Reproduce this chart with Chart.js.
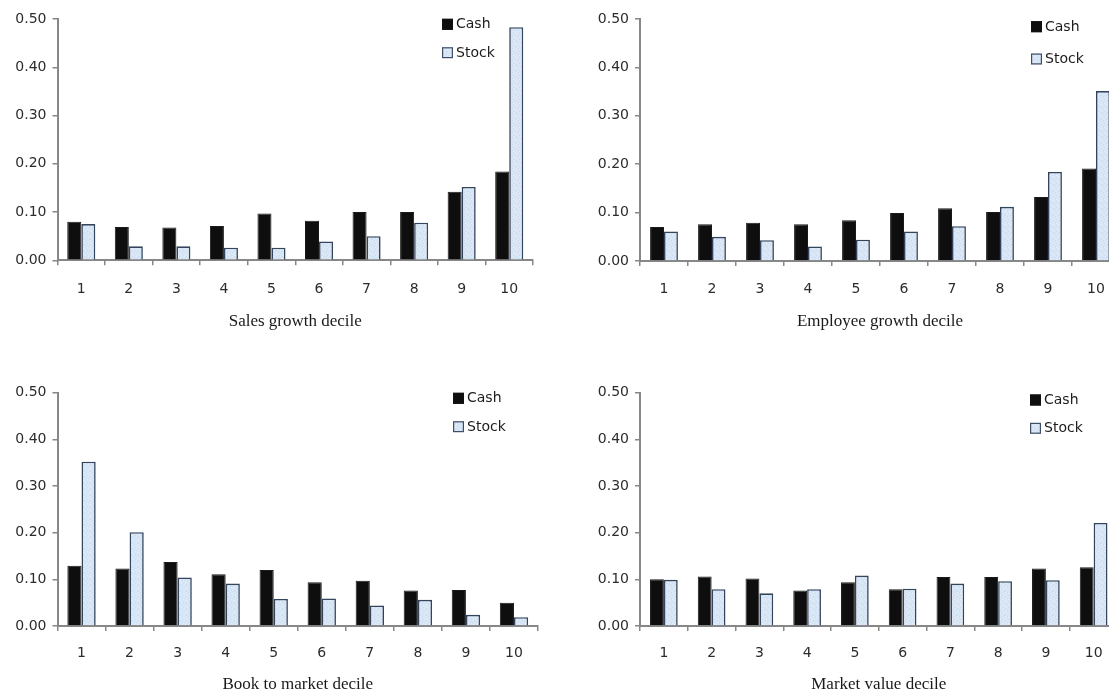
<!DOCTYPE html>
<html>
<head>
<meta charset="utf-8">
<script src="https://cdn.jsdelivr.net/npm/chart.js@4.4.1/dist/chart.umd.min.js"></script>
<style>
  html, body { margin: 0; padding: 0; background: #ffffff; }
  body { position: relative; width: 1109px; height: 696px; overflow: hidden; }
  canvas { position: absolute; display: block; }
</style>
</head>
<body>
<canvas id="sales"></canvas>
<canvas id="employee"></canvas>
<canvas id="btm"></canvas>
<canvas id="mktval"></canvas>
<script>
// Decile categories shared by every panel
const deciles = ['1', '2', '3', '4', '5', '6', '7', '8', '9', '10'];
const seriesNames = ['Cash', 'Stock'];
const yTickValues = [0, 0.1, 0.2, 0.3, 0.4, 0.5];

// Sales growth decile
const salesCash  = [0.080, 0.069, 0.068, 0.071, 0.097, 0.082, 0.100, 0.100, 0.142, 0.184];
const salesStock = [0.075, 0.029, 0.029, 0.026, 0.026, 0.039, 0.050, 0.078, 0.152, 0.483];

// Employee growth decile
const empCash  = [0.070, 0.076, 0.079, 0.076, 0.084, 0.099, 0.109, 0.101, 0.132, 0.191];
const empStock = [0.061, 0.050, 0.043, 0.030, 0.044, 0.061, 0.072, 0.112, 0.184, 0.351];

// Book to market decile
const btmCash  = [0.129, 0.123, 0.137, 0.111, 0.120, 0.094, 0.097, 0.076, 0.077, 0.050];
const btmStock = [0.352, 0.201, 0.104, 0.091, 0.058, 0.059, 0.044, 0.056, 0.024, 0.019];

// Market value decile
const mvCash  = [0.100, 0.106, 0.102, 0.076, 0.094, 0.079, 0.105, 0.105, 0.123, 0.126];
const mvStock = [0.099, 0.079, 0.070, 0.079, 0.108, 0.080, 0.091, 0.096, 0.098, 0.221];

// ---- styling ----
const SANS = 'DejaVu Sans';
const SERIF = 'Liberation Serif';
const AXIS_GRAY = '#878787';
const TEXT_DARK = '#2c2c2c';
const TICK_FONT = { family: SANS, size: 14, lineHeight: 1.2 };
const TITLE_FONT = { family: SERIF, size: 17, lineHeight: 1.2 };
const CASH_FILL = '#0e0e0e';
const STOCK_EDGE = '#33455c';

// light speckled fill for the Stock bars
function stockPattern() {
  const c = document.createElement('canvas');
  c.width = 6; c.height = 6;
  const g = c.getContext('2d');
  g.fillStyle = '#d7e5f4';
  g.fillRect(0, 0, 6, 6);
  g.fillStyle = '#e6f0fa';
  [[0, 0], [3, 1], [1, 3], [4, 4], [5, 2]].forEach(([x, y]) => g.fillRect(x, y, 1, 1));
  g.fillStyle = '#c9dcef';
  [[2, 0], [5, 5], [0, 4], [3, 3]].forEach(([x, y]) => g.fillRect(x, y, 1, 1));
  return g.createPattern(c, 'repeat');
}
const STOCK_FILL = stockPattern();

// legend drawn inside the plot, two stacked entries
const insideLegend = {
  id: 'insideLegend',
  afterDraw(chart, args, opts) {
    const ctx = chart.ctx;
    ctx.save();
    ctx.font = `14px "${SANS}"`;
    ctx.textBaseline = 'middle';
    ctx.textAlign = 'left';
    chart.data.datasets.forEach((ds, i) => {
      const y = opts.ys[i];
      const s = 11;
      ctx.fillStyle = ds.backgroundColor;
      ctx.fillRect(opts.x, y - s / 2, s, s);
      ctx.lineWidth = 1.2;
      ctx.strokeStyle = ds.legendEdge;
      ctx.strokeRect(opts.x + 0.6, y - s / 2 + 0.6, s - 1.2, s - 1.2);
      ctx.fillStyle = '#1c1c1c';
      ctx.fillText(ds.label, opts.x + s + 3, y + 0.5);
    });
    ctx.restore();
  }
};

function makePanel(id, box, area, labelY, titleY, legend, titleText, cash, stock, catPct) {
  const canvas = document.getElementById(id);
  canvas.width = box.w;
  canvas.height = box.h;
  canvas.style.left = box.x + 'px';
  canvas.style.top = box.y + 'px';
  canvas.style.width = box.w + 'px';
  canvas.style.height = box.h + 'px';

  const tickLen = 5;
  const yWidth = area.l - box.x;
  const top = area.t - box.y;
  const bottom = area.b - box.y;
  const titleHalf = TITLE_FONT.size * TITLE_FONT.lineHeight / 2;
  const xHeight = (titleY - box.y) + titleHalf - bottom;
  const padBottom = box.h - bottom - xHeight;
  const padRight = box.x + box.w - area.r;
  const xLabelPad = (labelY - area.b) - tickLen - TICK_FONT.size * TICK_FONT.lineHeight / 2;

  return new Chart(canvas, {
    type: 'bar',
    data: {
      labels: deciles,
      datasets: [
        {
          label: seriesNames[0], data: cash,
          backgroundColor: CASH_FILL, borderColor: '#1a1a1a', borderWidth: 1,
          legendEdge: '#111111',
          categoryPercentage: catPct, barPercentage: 1.0
        },
        {
          label: seriesNames[1], data: stock,
          backgroundColor: STOCK_FILL, borderColor: STOCK_EDGE, borderWidth: 1.6,
          legendEdge: '#3d4f66',
          categoryPercentage: catPct, barPercentage: 1.0
        }
      ]
    },
    options: {
      responsive: false,
      animation: false,
      devicePixelRatio: 1,
      layout: { padding: { left: 0, top: top, right: padRight, bottom: padBottom } },
      plugins: {
        legend: { display: false },
        tooltip: { enabled: false },
        insideLegend: { x: legend.x - box.x, ys: legend.ys.map(v => v - box.y) }
      },
      scales: {
        x: {
          offset: true,
          grid: {
            display: true, offset: true, drawOnChartArea: false, drawTicks: true,
            tickLength: tickLen, color: AXIS_GRAY, lineWidth: 1.5
          },
          border: { display: true, color: AXIS_GRAY, width: 2 },
          ticks: { font: TICK_FONT, color: TEXT_DARK, padding: xLabelPad, maxRotation: 0, autoSkip: false },
          title: {
            display: true, text: titleText, font: TITLE_FONT, color: '#1a1a1a',
            padding: { top: 0, bottom: 0 }
          },
          afterFit(scale) { scale.height = xHeight; }
        },
        y: {
          min: 0, max: 0.5,
          afterBuildTicks(scale) { scale.ticks = yTickValues.map(v => ({ value: v })); },
          grid: {
            display: true, drawOnChartArea: false, drawTicks: true,
            tickLength: tickLen, color: AXIS_GRAY, lineWidth: 1.5
          },
          border: { display: true, color: AXIS_GRAY, width: 2 },
          ticks: {
            font: TICK_FONT, color: TEXT_DARK, padding: 6,
            callback: v => Number(v).toFixed(2)
          },
          afterFit(scale) { scale.width = yWidth; }
        }
      }
    },
    plugins: [insideLegend]
  });
}

makePanel('sales',
  { x: 0, y: 0, w: 555, h: 345 },
  { l: 57.5, r: 533, t: 19, b: 260.3 },
  289, 322,
  { x: 442, ys: [24.3, 52.7] },
  'Sales growth decile', salesCash, salesStock, 0.59);

makePanel('employee',
  { x: 555, y: 0, w: 575, h: 345 },
  { l: 640, r: 1120, t: 19, b: 261 },
  289, 322,
  { x: 1031, ys: [26.7, 59] },
  'Employee growth decile', empCash, empStock, 0.58);

makePanel('btm',
  { x: 0, y: 370, w: 555, h: 326 },
  { l: 57.5, r: 538, t: 392.7, b: 626 },
  653.3, 685,
  { x: 453, ys: [398.3, 426.7] },
  'Book to market decile', btmCash, btmStock, 0.59);

makePanel('mktval',
  { x: 555, y: 370, w: 575, h: 326 },
  { l: 640, r: 1117.5, t: 392.7, b: 626 },
  653.3, 685,
  { x: 1030, ys: [400, 428.3] },
  'Market value decile', mvCash, mvStock, 0.58);
</script>
</body>
</html>
